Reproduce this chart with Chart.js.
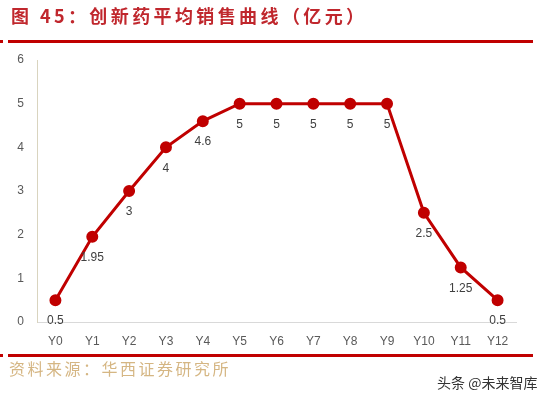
<!DOCTYPE html>
<html>
<head>
<meta charset="utf-8">
<script src="https://cdn.jsdelivr.net/npm/chart.js@4/dist/chart.umd.min.js"></script>
<style>
  html,body{margin:0;padding:0;background:#fff;}
  #wrap{position:relative;width:548px;height:401px;overflow:hidden;background:#fff;}
  #title{position:absolute;left:11px;top:3px;font-family:"Noto Sans CJK SC";font-weight:bold;font-size:18px;color:#C0272D;letter-spacing:3.4px;white-space:nowrap;line-height:24px;}
  .rule{position:absolute;height:3px;background:#C00000;}
  #src{position:absolute;left:9px;top:357px;font-family:"Noto Sans CJK SC";font-size:16px;color:#D5B683;letter-spacing:2.5px;white-space:nowrap;line-height:22px;}
  #wm{position:absolute;left:437px;top:373px;font-family:"Noto Sans CJK SC";font-size:14px;color:#333;white-space:nowrap;line-height:18px;}
  #cv{position:absolute;left:0;top:0;}
</style>
</head>
<body>
<div id="wrap">
  <canvas id="cv" width="548" height="401"></canvas>
  <div id="title">图 45：创新药平均销售曲线（亿元）</div>
  <div class="rule" style="left:0;top:40px;width:3px;"></div>
  <div class="rule" style="left:8px;top:40px;width:525px;"></div>
  <div class="rule" style="left:0;top:354px;width:3px;"></div>
  <div class="rule" style="left:8px;top:354px;width:525px;"></div>
  <div id="src">资料来源：华西证券研究所</div>
  <div id="wm">头条 @未来智库</div>
</div>
<script>
const categories = ["Y0","Y1","Y2","Y3","Y4","Y5","Y6","Y7","Y8","Y9","Y10","Y11","Y12"];
const salesValues = [0.5, 1.95, 3, 4, 4.6, 5, 5, 5, 5, 5, 2.5, 1.25, 0.5];
const yTicks = [0, 1, 2, 3, 4, 5, 6];

const labelPlugin = {
  id: 'valueLabels',
  afterDatasetsDraw(chart) {
    const ctx = chart.ctx;
    const meta = chart.getDatasetMeta(0);
    ctx.save();
    ctx.font = '12px "Liberation Sans"';
    ctx.fillStyle = '#404040';
    ctx.textAlign = 'center';
    ctx.textBaseline = 'middle';
    meta.data.forEach((pt, i) => {
      ctx.fillText(String(salesValues[i]), pt.x, pt.y + 21);
    });
    ctx.restore();
  }
};

new Chart(document.getElementById('cv'), {
  type: 'line',
  data: {
    labels: categories,
    datasets: [{
      data: salesValues,
      borderColor: '#C00000',
      backgroundColor: '#C00000',
      pointBackgroundColor: '#C00000',
      pointBorderColor: '#C00000',
      borderWidth: 3,
      pointRadius: 4.5,
      tension: 0,
      fill: false
    }]
  },
  options: {
    responsive: false,
    animation: false,
    devicePixelRatio: 1,
    layout: { padding: { left: 0, right: 32, top: 60, bottom: 49 } },
    plugins: { legend: { display: false }, tooltip: { enabled: false } },
    scales: {
      x: {
        offset: true,
        grid: { display: false, drawTicks: false },
        border: { display: true, color: '#D9D9D9', width: 1 },
        ticks: { padding: 12, color: '#595959', font: { family: 'Liberation Sans', size: 12 } },
        afterFit(s) { s.height = 30; }
      },
      y: {
        min: 0, max: 6,
        afterBuildTicks(s) { s.ticks = yTicks.map(v => ({ value: v })); },
        grid: { display: false, drawTicks: false },
        border: { display: true, color: '#D9D4BF', width: 1 },
        ticks: { padding: 13, color: '#595959', font: { family: 'Liberation Sans', size: 12 } },
        afterFit(s) { s.width = 37; }
      }
    }
  },
  plugins: [labelPlugin]
});
</script>
</body>
</html>
